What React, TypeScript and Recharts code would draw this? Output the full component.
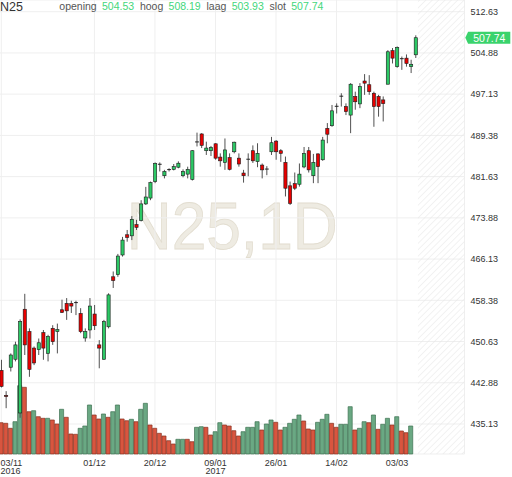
import React from 'react';
import {
  ComposedChart,
  Bar,
  XAxis,
  YAxis,
  CartesianGrid,
  ReferenceArea,
  ReferenceLine,
  Cell,
} from 'recharts';

// ---------- data ----------
const opens = [
  445.2, 440.5, 445.8, 447.3, 437.2, 456.7, 452.5, 449.4, 449.1, 452.3,
  448.4, 453.1, 452.5, 456.6, 457.8, 457.8, 457.9, 455.9, 451.3, 452.8,
  455.8, 450.0, 447.3, 453.4, 462.8, 463.2, 466.9, 470.7, 470.5, 472.6,
  473.4, 476.5, 477.6, 480.7, 483.9, 481.8, 482.9, 483.0, 483.4, 481.8,
  482.1, 481.1, 488.1, 489.65, 486.5, 486.5, 487.8, 485.3, 484.3, 485.2,
  486.3, 485.1, 482.3, 484.8, 486.5, 484.45, 483.8, 483.0, 486.3, 488.3,
  486.5, 484.3, 479.9, 480.3, 480.2, 483.45, 486.5, 481.8, 485.9, 484.8,
  490.7, 491.2, 494.8, 496.7, 494.8, 493.2, 496.7, 495.3, 499.6, 498.9,
  497.3, 496.7, 496.05, 499.0, 505.3, 502.3, 503.75, 503.9, 502.3, 504.53,
];
const highs = [
  447.2, 441.3, 448.4, 450.6, 454.8, 459.6, 453.1, 449.7, 451.2, 452.8,
  451.9, 453.7, 454.0, 458.5, 458.8, 458.3, 458.3, 456.9, 453.1, 458.8,
  457.5, 450.9, 454.7, 459.7, 463.8, 467.1, 470.3, 471.6, 474.2, 473.5,
  477.2, 479.7, 480.7, 484.3, 484.3, 482.9, 483.2, 484.0, 484.5, 483.0,
  483.5, 486.6, 489.9, 489.8, 488.2, 487.4, 487.9, 486.0, 488.8, 486.0,
  488.2, 486.0, 482.9, 486.0, 487.5, 487.9, 484.1, 483.6, 489.1, 488.5,
  486.8, 485.4, 480.7, 482.4, 484.1, 487.2, 487.2, 485.9, 486.0, 489.1,
  491.7, 495.1, 495.4, 497.3, 495.4, 499.2, 497.6, 499.2, 500.9, 500.7,
  497.6, 497.0, 496.7, 505.4, 505.8, 506.1, 504.2, 504.6, 503.6, 508.19,
];
const lows = [
  442.0, 438.1, 445.0, 446.9, 436.3, 448.1, 444.0, 446.2, 448.1, 447.2,
  446.9, 450.0, 448.4, 456.0, 454.7, 456.0, 455.6, 452.2, 450.6, 451.2,
  452.8, 445.6, 447.2, 453.1, 460.7, 462.8, 466.6, 469.4, 469.7, 471.6,
  473.2, 476.3, 477.2, 480.4, 482.6, 481.3, 482.6, 482.8, 483.2, 481.5,
  481.3, 480.9, 487.3, 487.0, 485.7, 485.5, 484.8, 483.5, 482.9, 482.8,
  486.0, 483.5, 480.5, 481.7, 484.2, 483.4, 481.3, 481.9, 485.7, 484.8,
  484.4, 477.9, 476.3, 479.1, 479.75, 483.2, 482.4, 480.4, 480.4, 484.6,
  487.9, 491.0, 493.5, 494.8, 493.2, 489.8, 494.2, 494.5, 497.0, 497.0,
  491.0, 492.9, 492.0, 499.0, 502.9, 502.1, 501.7, 502.3, 501.1, 503.93,
];
const closes = [
  442.2, 440.3, 448.1, 450.0, 454.4, 450.0, 445.4, 446.6, 450.4, 449.4,
  451.6, 450.6, 452.9, 456.1, 456.4, 457.3, 457.95, 452.5, 452.5, 457.3,
  453.6, 449.4, 454.4, 459.4, 462.1, 466.7, 469.7, 470.2, 473.6, 472.1,
  476.5, 477.8, 480.5, 484.1, 483.95, 482.6, 482.95, 483.5, 484.15, 482.6,
  483.0, 486.5, 488.15, 487.5, 487.0, 487.1, 485.1, 484.6, 486.65, 483.0,
  488.1, 484.0, 481.8, 484.9, 484.6, 486.0, 482.9, 483.05, 488.0, 486.3,
  486.0, 479.45, 476.6, 479.45, 482.1, 486.0, 482.9, 484.3, 483.5, 488.5,
  489.6, 494.0, 494.85, 496.75, 493.85, 499.0, 495.7, 498.55, 499.2, 497.6,
  494.8, 494.8, 495.35, 505.1, 503.9, 505.9, 503.8, 502.9, 502.75, 507.74,
];
const volumes: (number | null)[] = [
  31.3, 30.7, 25.7, 32.3, 68.3, 66.7, 42.3, 43.3, 37.3, 35.7,
  35.7, 34, 30, 44.7, 36.7, 20, 19.7, 25.7, 28, 49,
  39, 35, 40, 36.7, 42.3, 49, 35, 33.3, 34.7, 32.3,
  44.7, 50.7, 29, 25.7, 20.7, 18, 13.3, 10, 14.7, 14.7,
  14.7, 12.3, 26.7, 27.3, 26.7, 19, 22.3, 31.3, 29, 28,
  23.3, 18, 22.3, 26.7, 26.7, 32.3, 24, 30, 34, 31.7,
  24, 26.7, 30.7, 34.7, 39, 33, 25, 24, 31.7, 34.7,
  39.7, 30.7, 26.7, 29.7, 29.7, 47.3, 24, 25.7, 32.3, 31.3,
  39, 24.7, 29.7, 35.7, 29, 37.3, 23, 21.3, 28, null,
];
const volumeDirs = (
  'ddduuddudd' + 'udduddduuu' + 'dduduuddud' + 'uudddddduu' + 'dduudduudd' +
  'dduuuuduud' + 'duuuuddduu' + 'udduuuduud' + 'uduududdu'
).split('');

const futureSlots = 10;
const xTickIndices = [1, 21, 34, 47, 60, 73, 86];
const xTickLabels = ['03/11', '01/12', '20/12', '09/01', '26/01', '14/02', '03/03'];
const xTickYears = ['2016', '', '', '2017', '', '', ''];
const priceTicks = [435.13, 442.88, 450.63, 458.38, 466.13, 473.88, 481.63, 489.38, 497.13, 504.88, 512.63];
const priceDomain = [429.49, 514.83];
const volumeDomain = [0, 454];
const symbol = 'N25';
const watermark = 'N25,1D';

// ---------- styling ----------
const FONT = '"Liberation Sans", Arial, Helvetica, sans-serif';
const CANDLE_UP = '#2cc865';
const CANDLE_DOWN = '#e80000';
const VOL_UP = '#6aa883';
const VOL_UP_STROKE = '#3e7152';
const VOL_DOWN = '#d8553f';
const VOL_DOWN_STROKE = '#87301f';
const TAG_GREEN = '#3ad36c';
const HEADER_GREEN = '#43d67b';

const n = opens.length;
const data = Array.from({ length: n + futureSlots }, (_, k) => {
  const real = k < n;
  return {
    i: k + 1,
    o: real ? opens[k] : null,
    h: real ? highs[k] : null,
    l: real ? lows[k] : null,
    c: real ? closes[k] : null,
    v: real ? volumes[k] : null,
    vd: real ? volumeDirs[k] : null,
  };
});

const Candle = (props: any) => {
  const { x, y, width, height, payload } = props;
  if (!payload || payload.h == null) return null;
  const { o, h, l, c } = payload;
  const top = Math.min(y, y + height);
  const span = Math.abs(height);
  const k = h - l > 0 ? span / (h - l) : 0;
  const cx = x + width / 2;
  const yo = top + (h - o) * k;
  const yc = top + (h - c) * k;
  const up = c >= o;
  const bw = 3.2;
  const flat = Math.abs(yo - yc) < 0.9;
  return (
    <g>
      <line x1={cx} x2={cx} y1={top} y2={top + span} stroke="#505050" strokeWidth={1} />
      {flat ? (
        <line x1={cx - bw / 2 - 0.3} x2={cx + bw / 2 + 0.3} y1={yc} y2={yc} stroke="#222" strokeWidth={1} />
      ) : (
        <rect
          x={cx - bw / 2}
          y={Math.min(yo, yc)}
          width={bw}
          height={Math.abs(yo - yc)}
          fill={up ? CANDLE_UP : CANDLE_DOWN}
          stroke="#1a1a1a"
          strokeWidth={0.6}
        />
      )}
    </g>
  );
};

const XTick = (props: any) => {
  const { x, y, payload } = props;
  const idx = xTickIndices.indexOf(payload.value);
  if (idx < 0) return null;
  const first = idx === 0;
  const tx = first ? 1.5 : x;
  const anchor = first ? 'start' : 'middle';
  return (
    <g>
      <text x={tx} y={y + 10} textAnchor={anchor} fontSize={9} fill="#333" fontFamily={FONT}>
        {xTickLabels[idx]}
      </text>
      {xTickYears[idx] ? (
        <text x={tx} y={y + 18.5} textAnchor={anchor} fontSize={9} fill="#333" fontFamily={FONT}>
          {xTickYears[idx]}
        </text>
      ) : null}
    </g>
  );
};

const PriceTag = (props: any) => {
  const vb = props.viewBox || {};
  const yy = vb.y;
  const xr = vb.x + vb.width;
  if (yy == null || isNaN(xr)) return null;
  const pts = [
    [xr + 0.8, yy],
    [xr + 3.6, yy - 6],
    [xr + 45.8, yy - 6],
    [xr + 45.8, yy + 6],
    [xr + 3.6, yy + 6],
  ]
    .map((p) => p.join(','))
    .join(' ');
  return (
    <g>
      <polygon points={pts} fill={TAG_GREEN} />
      <text
        x={xr + 24.8}
        y={yy + 0.5}
        textAnchor="middle"
        dominantBaseline="central"
        fontSize={10.5}
        fill="#fff"
        fontFamily={FONT}
      >
        {closes[n - 1].toFixed(2)}
      </text>
    </g>
  );
};

const headerItems = [
  { label: 'opening', value: opens[n - 1] },
  { label: 'hoog', value: highs[n - 1] },
  { label: 'laag', value: lows[n - 1] },
  { label: 'slot', value: closes[n - 1] },
];

export default function App() {
  return (
    <div
      style={{
        position: 'absolute',
        left: 0,
        top: 0,
        width: 512,
        height: 477,
        overflow: 'hidden',
        background: '#fff',
        fontFamily: FONT,
      }}
    >
      <svg width={512} height={477} style={{ position: 'absolute', left: 0, top: 0 }}>
        <text
          x={126.7}
          y={248.5}
          fontSize={66}
          fill="#eeebe2"
          stroke="#e2ddd0"
          strokeWidth={0.8}
          textLength={211}
          lengthAdjust="spacingAndGlyphs"
          fontFamily={FONT}
        >
          {watermark}
        </text>
      </svg>
      <div style={{ position: 'absolute', left: -1.33, top: 0 }}>
        <ComposedChart
          width={513.33}
          height={477}
          data={data}
          margin={{ top: 0, right: 0, bottom: 0, left: 0 }}
          barCategoryGap={0}
          barGap={0}
        >
          <defs>
            <pattern
              id="hatch"
              width={4.5}
              height={4.5}
              patternUnits="userSpaceOnUse"
              patternTransform="rotate(45)"
            >
              <line x1={0} y1={0} x2={0} y2={4.5} stroke="#e6e6e6" strokeWidth={1} />
            </pattern>
          </defs>
          <XAxis
            xAxisId="x"
            dataKey="i"
            type="category"
            ticks={xTickIndices}
            interval={0}
            tick={<XTick />}
            tickLine={false}
            axisLine={false}
            tickSize={0}
            height={23}
          />
          <XAxis xAxisId="xv" dataKey="i" type="category" hide />
          <YAxis
            yAxisId="p"
            orientation="right"
            domain={priceDomain}
            ticks={priceTicks}
            interval={0}
            allowDataOverflow
            width={47.83}
            tickLine={false}
            axisLine={false}
            tickSize={0}
            tickMargin={6}
            tickFormatter={(v: number) => v.toFixed(2)}
            tick={{ fontSize: 9, fill: '#333', fontFamily: FONT, textAnchor: 'start' }}
          />
          <YAxis yAxisId="v" domain={volumeDomain} hide />
          <CartesianGrid xAxisId="x" yAxisId="p" stroke="#efefef" strokeWidth={1} />
          <ReferenceArea
            xAxisId="x"
            yAxisId="p"
            x1={n + 1}
            x2={n + futureSlots}
            fill="url(#hatch)"
            fillOpacity={1}
            stroke="none"
            ifOverflow="visible"
          />
          <Bar
            xAxisId="xv"
            yAxisId="v"
            dataKey="v"
            barSize={4.1}
            isAnimationActive={false}
            strokeWidth={0.7}
          >
            {data.map((d, k) => (
              <Cell
                key={k}
                fill={d.vd === 'u' ? VOL_UP : VOL_DOWN}
                stroke={d.vd === 'u' ? VOL_UP_STROKE : VOL_DOWN_STROKE}
              />
            ))}
          </Bar>
          <Bar
            xAxisId="x"
            yAxisId="p"
            dataKey={(d: any) => (d.h == null ? null : [d.l, d.h])}
            shape={<Candle />}
            isAnimationActive={false}
          />
          <ReferenceLine
            xAxisId="x"
            yAxisId="p"
            y={closes[n - 1]}
            stroke="none"
            label={<PriceTag />}
          />
        </ComposedChart>
      </div>
      <svg width={512} height={20} style={{ position: 'absolute', left: 0, top: 0 }}>
        <text x={0} y={10.7} fontSize={12.5} fill="#333" fontFamily={FONT}>
          {symbol}
        </text>
        <text x={59.3} y={9.7} fontSize={10.5} fontFamily={FONT}>
          {headerItems.map((it, k) => (
            <React.Fragment key={k}>
              <tspan dx={k === 0 ? 0 : 5.8} fill="#555">
                {it.label}
              </tspan>
              <tspan dx={5.3} fill={HEADER_GREEN}>
                {it.value.toFixed(2)}
              </tspan>
            </React.Fragment>
          ))}
        </text>
      </svg>
    </div>
  );
}
